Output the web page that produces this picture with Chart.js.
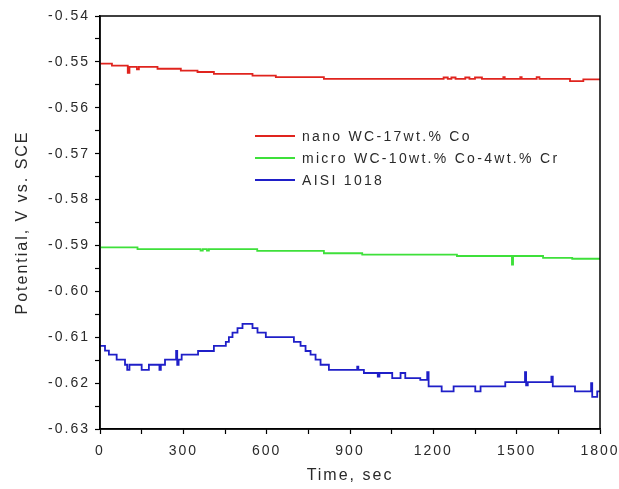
<!DOCTYPE html>
<html>
<head>
<meta charset="utf-8">
<script src="https://cdn.jsdelivr.net/npm/chart.js@4/dist/chart.umd.min.js"></script>
<style>
  html, body { margin: 0; padding: 0; background: #fff; }
  #wrap { width: 619px; height: 489px; }
</style>
</head>
<body>
<div id="wrap"><canvas id="myChart" width="619" height="489"></canvas></div>
<script>
// open circuit potential vs time, one level per time where the reading changes
const seriesNames = ['nano WC-17wt.% Co', 'micro WC-10wt.% Co-4wt.% Cr', 'AISI 1018'];
const seriesColors = ['#e0241e', '#3ee03a', '#1f1fc8'];

const nanoTime = [0, 43, 100, 106, 133, 140, 207, 291, 351, 410, 549, 633, 806,
                  1237, 1252, 1265, 1280, 1315, 1330, 1350, 1375,
                  1452, 1457, 1513, 1518, 1572, 1582, 1692, 1740, 1800];
const nanoPotential = [-0.5504, -0.5508, -0.5524, -0.5511, -0.5516, -0.5511, -0.5515, -0.5519, -0.5522, -0.5526, -0.5530, -0.5533, -0.5537,
                       -0.5534, -0.5537, -0.5534, -0.5537, -0.5534, -0.5537, -0.5534, -0.5537,
                       -0.5533, -0.5537, -0.5533, -0.5537, -0.5533, -0.5537, -0.5542, -0.5538, -0.5538];

const microTime = [0, 135, 362, 370, 385, 392, 566, 806, 944, 1285, 1483, 1487, 1595, 1700, 1800];
const microPotential = [-0.5904, -0.5908, -0.5911, -0.5908, -0.5911, -0.5908, -0.5912, -0.5917, -0.5920, -0.5923, -0.5942, -0.5923, -0.5927, -0.5929, -0.5929];

const aisiTime = [0, 18, 32, 60, 90, 98, 106, 150, 176, 214, 219, 234, 274, 278, 283, 294, 353, 410,
                  453, 464, 477, 495, 513, 549, 567, 597, 698, 722, 740, 758, 776, 794, 824,
                  926, 930, 950, 1000, 1006, 1052, 1082, 1099, 1153, 1178, 1183, 1230, 1273, 1351, 1370,
                  1459, 1530, 1534, 1540, 1625, 1630, 1710, 1768, 1772, 1790, 1800];
const aisiPotential = [-0.6119, -0.6129, -0.6138, -0.6149, -0.6160, -0.6171, -0.6160, -0.6171, -0.6160, -0.6171, -0.6160, -0.6149, -0.6130, -0.6160, -0.6149, -0.6138, -0.6130, -0.6119,
                       -0.6110, -0.6100, -0.6090, -0.6080, -0.6071, -0.6080, -0.6090, -0.6100, -0.6110, -0.6119, -0.6130, -0.6138, -0.6149, -0.6160, -0.6171,
                       -0.6164, -0.6171, -0.6178, -0.6186, -0.6178, -0.6189, -0.6178, -0.6189, -0.6193, -0.6176, -0.6207, -0.6218, -0.6207, -0.6218, -0.6207,
                       -0.6198, -0.6176, -0.6205, -0.6198, -0.6186, -0.6207, -0.6218, -0.6200, -0.6230, -0.6218, -0.6218];

const xMin = 0, xMax = 1800, xStep = 300;
const yMin = -0.63, yMax = -0.54, yStep = 0.01;

function toPoints(times, values) {
    return times.map((t, i) => ({x: t, y: values[i]}));
}

const textColor = '#2a2a2a';
const fontFamily = '"Liberation Sans", Arial, sans-serif';

// spaced-out lettering and the closed frame round the plot
const framePlugin = {
    id: 'frame',
    beforeDraw(chart) {
        chart.ctx.letterSpacing = '2px';
    },
    afterDraw(chart) {
        const ctx = chart.ctx;
        const a = chart.chartArea;
        ctx.save();
        ctx.strokeStyle = '#000';
        ctx.lineWidth = 1.5;
        ctx.strokeRect(a.left, a.top, a.right - a.left, a.bottom - a.top);
        ctx.restore();
    }
};

// legend sits inside the plot
const insideLegend = {
    id: 'insideLegend',
    afterDatasetsDraw(chart) {
        const ctx = chart.ctx;
        const x0 = 255, x1 = 295, y0 = 136, dy = 22;
        ctx.save();
        ctx.letterSpacing = '2.3px';
        ctx.font = '14px ' + fontFamily;
        ctx.textBaseline = 'middle';
        chart.data.datasets.forEach((ds, i) => {
            const y = y0 + i * dy;
            ctx.strokeStyle = ds.borderColor;
            ctx.lineWidth = 1.8;
            ctx.beginPath();
            ctx.moveTo(x0, y);
            ctx.lineTo(x1, y);
            ctx.stroke();
            ctx.fillStyle = textColor;
            ctx.fillText(ds.label, x1 + 7, y + 1);
        });
        ctx.restore();
    }
};

const ctx = document.getElementById('myChart').getContext('2d');

const myChart = new Chart(ctx, {
    type: 'line',
    data: {
        datasets: [
            {label: seriesNames[0], data: toPoints(nanoTime, nanoPotential), borderColor: seriesColors[0]},
            {label: seriesNames[1], data: toPoints(microTime, microPotential), borderColor: seriesColors[1]},
            {label: seriesNames[2], data: toPoints(aisiTime, aisiPotential), borderColor: seriesColors[2]}
        ].map(ds => Object.assign(ds, {stepped: 'before', borderWidth: 1.8, pointRadius: 0, fill: false}))
    },
    options: {
        responsive: false,
        animation: false,
        layout: {padding: {left: 0, right: 19, top: 16, bottom: 0}},
        plugins: {legend: {display: false}, tooltip: {enabled: false}},
        scales: {
            x: {
                type: 'linear',
                min: xMin, max: xMax,
                afterFit: s => { s.height = 60; s.paddingLeft = 0; s.paddingRight = 0; },
                grid: {drawOnChartArea: false, tickLength: 5, color: '#000', tickWidth: 1.2},
                border: {color: '#000', width: 1.5},
                ticks: {
                    stepSize: xStep / 2,
                    color: textColor,
                    font: {family: fontFamily, size: 14},
                    padding: 9,
                    maxRotation: 0,
                    callback: v => (v % xStep === 0 ? v : '')
                },
                title: {
                    display: true, text: 'Time, sec', color: textColor,
                    font: {family: fontFamily, size: 16},
                    padding: {top: 0, bottom: 4}
                }
            },
            y: {
                min: yMin, max: yMax,
                afterFit: s => { s.width = 100; },
                grid: {drawOnChartArea: false, tickLength: 5, color: '#000', tickWidth: 1.2},
                border: {color: '#000', width: 1.5},
                ticks: {
                    stepSize: yStep / 2,
                    color: textColor,
                    font: {family: fontFamily, size: 14},
                    padding: 5,
                    callback: v => (Math.round(v * 1000) % 10 === 0 ? v.toFixed(2) : '')
                },
                title: {
                    display: true, text: 'Potential, V vs. SCE', color: textColor,
                    font: {family: fontFamily, size: 16},
                    padding: {top: 13, bottom: 0}
                }
            }
        }
    },
    plugins: [framePlugin, insideLegend]
});
</script>
</body>
</html>
